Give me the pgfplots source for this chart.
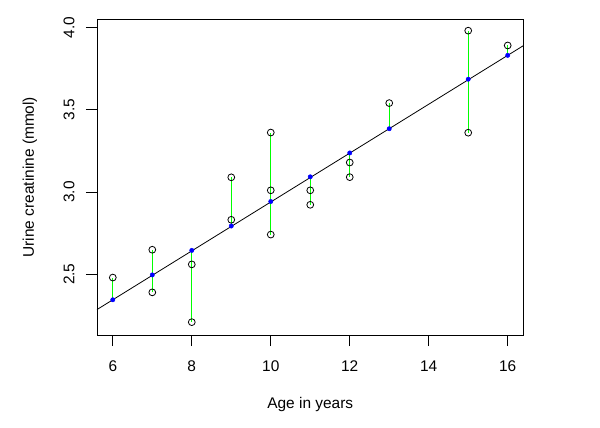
\documentclass[border=0pt]{standalone}
\usepackage{pgfplots}
\pgfplotsset{compat=1.18}
\usepackage{fontspec}
\setmainfont{Liberation Sans}
\definecolor{rgreen}{RGB}{0,255,0}
\begin{document}
\fontsize{15.5}{18}\selectfont
\begin{tikzpicture}
\begin{axis}[
  scale only axis,
  width=426.5bp, height=315.7bp,
  xmin=5.6, xmax=16.4, ymin=2.131, ymax=4.049,
  xtick={6,8,10,12,14,16},
  ytick={2.5,3.0,3.5,4.0},
  yticklabel style={/pgf/number format/fixed, /pgf/number format/fixed zerofill, /pgf/number format/precision=1},
  /pgf/number format/assume math mode=true,
  tick align=outside,
  major tick length=11bp,
  tick style={black, line width=0.8bp},
  axis line style={line width=0.8bp},
  xticklabel style={anchor=center},
  xticklabel shift=20bp,
  yticklabel style={rotate=90, anchor=center},
  yticklabel shift=17bp,
  tick label style={font=\fontsize{15.5}{18}\selectfont},
  xtick pos=bottom, ytick pos=left,
  clip=false,
  unbounded coords=jump,
]
% vertical segments (min to max at each age)
\addplot[rgreen, line width=0.8bp] coordinates {
(6,2.345) (6,2.48) (6,nan)
(7,2.39) (7,2.649) (7,nan)
(8,2.209) (8,2.645) (8,nan)
(9,2.793) (9,3.089) (9,nan)
(10,2.741) (10,3.361) (10,nan)
(11,2.922) (11,3.092) (11,nan)
(12,3.09) (12,3.237) (12,nan)
(13,3.384) (13,3.540) (13,nan)
(15,3.36) (15,3.98) (15,nan)
(16,3.83) (16,3.89)
};
% fitted line
\addplot[black, line width=0.8bp] coordinates {(5.6,2.2856) (16.4,3.8894)};
% observed values
\addplot[only marks, mark=o, mark size=3.4bp, mark options={black, line width=0.8bp}] coordinates {
(6,2.48)
(7,2.649) (7,2.39)
(8,2.56) (8,2.209)
(9,3.089) (9,2.831)
(10,3.361) (10,3.01) (10,2.741)
(11,3.01) (11,2.922)
(12,3.179) (12,3.09)
(13,3.540)
(15,3.98) (15,3.36)
(16,3.89)
};
% fitted values
\addplot[only marks, mark=*, mark size=2.2bp, mark options={blue, draw=blue}] coordinates {
(6,2.345) (7,2.496) (8,2.645) (9,2.793) (10,2.942) (11,3.092) (12,3.237) (13,3.384) (15,3.685) (16,3.83)
};
\node[rotate=90] at ([xshift=-67bp]rel axis cs:0,0.5) {Urine creatinine (mmol)};
\node at ([yshift=-70bp]rel axis cs:0.5,0) {Age in years};
\coordinate (bl) at (rel axis cs:0,0);
\coordinate (tr) at (rel axis cs:1,1);
\end{axis}
\pgfresetboundingbox
\path[use as bounding box] ([shift={(-97bp,-93bp)}]bl) rectangle ([shift={(76.5bp,19.3bp)}]tr);
\end{tikzpicture}
\end{document}
